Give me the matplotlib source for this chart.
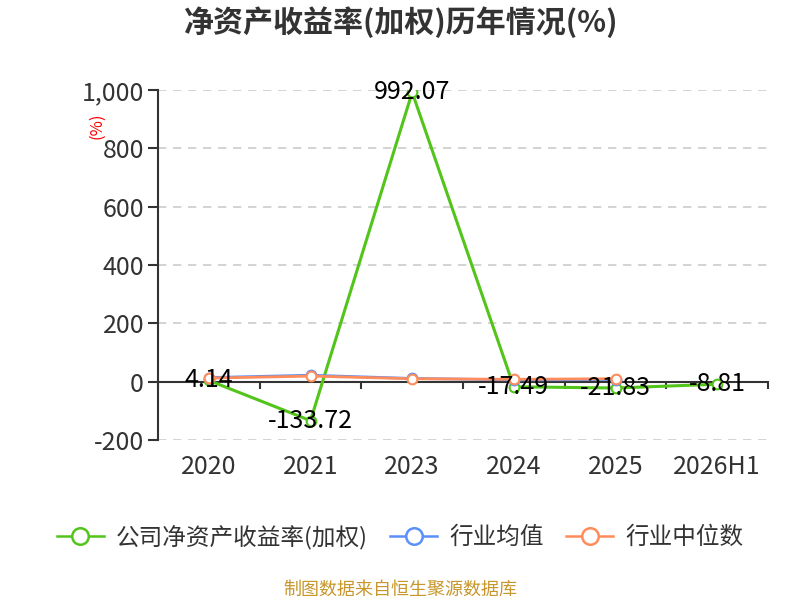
import matplotlib
matplotlib.use('Agg')
import matplotlib.pyplot as plt
from matplotlib.ticker import FuncFormatter

plt.rcParams['font.family'] = ['Noto Sans CJK SC', 'DejaVu Sans']

years = ['2020', '2021', '2023', '2024', '2025', '2026H1']
company = [4.14, -133.72, 992.07, -17.49, -21.83, -8.81]
ind_avg = [14, 22, 11, 6, 7]
ind_med = [12, 19, 10, 8, 10]
names = ['公司净资产收益率(加权)', '行业均值', '行业中位数']

c_green, c_blue, c_orange = '#52c41a', '#5b8ff9', '#ff8c5a'
ylo, yhi = -200, 1000

fig = plt.figure(figsize=(8, 6), dpi=100)
ax = fig.add_axes([0.1975, 0.2667, 0.7625, 0.5833])
x = list(range(len(years)))

mk = dict(marker='o', markersize=7, markerfacecolor='white', markeredgewidth=1.5)
ax.plot(x, company, color=c_green, lw=2.2, label=names[0], zorder=3, **mk)
ax.plot(x[:len(ind_avg)], ind_avg, color=c_blue, lw=2, label=names[1], zorder=4, **mk)
ax.plot(x[:len(ind_med)], ind_med, color=c_orange, lw=2, label=names[2], zorder=5, **mk)

for xi, v in zip(x, company):
    ax.text(xi, v, f'{v:.2f}', ha='center', va='center', fontsize=18,
            color='black', zorder=10)

ax.set_xlim(-0.5, len(years) - 0.5)
ax.set_ylim(ylo, yhi)
ax.set_yticks(range(ylo, yhi + 1, 200))
ax.yaxis.set_major_formatter(FuncFormatter(lambda v, p: f'{int(v):,}'))
ax.grid(axis='y', ls=(0, (5, 4)), color='#cccccc', lw=1.2)
ax.set_axisbelow(True)
# no dashed line over the zero axis
for t, g in zip(ax.get_yticks(), ax.get_ygridlines()):
    if t == 0:
        g.set_visible(False)

for s in ['top', 'right', 'bottom']:
    ax.spines[s].set_visible(False)
ax.spines['left'].set_color('#333333')
ax.spines['left'].set_linewidth(1.5)
ax.tick_params(axis='y', length=7, width=1.5, color='#333333',
               labelsize=18, labelcolor='#333333', pad=3)
ax.set_xticks(x)
ax.set_xticklabels(years)
ax.tick_params(axis='x', length=0, labelsize=18, labelcolor='#333333', pad=10)

# x axis line sitting at zero
zero = ax.secondary_xaxis((0 - ylo) / (yhi - ylo))
zero.set_xticks([i - 0.5 for i in range(len(years) + 1)])
zero.set_xticklabels([])
zero.tick_params(length=5, width=1.5, color='#333333')
zero.spines['bottom'].set_color('#333333')
zero.spines['bottom'].set_linewidth(1.5)

fig.text(0.121, 0.79, '(%)', color='red', fontsize=12, rotation=90,
         ha='center', va='center')

fig.suptitle('净资产收益率(加权)历年情况(%)', x=0.5, y=0.963, va='center',
             fontsize=21.6, fontweight='bold', color='#333333')

leg = fig.legend(loc='center', bbox_to_anchor=(0.5, 0.105), ncol=3, frameon=False,
                 fontsize=17, handlelength=2.0, columnspacing=0.95,
                 handletextpad=0.5, labelcolor='#333333', markerscale=1.7)
for h in leg.legend_handles:
    h.set_linewidth(1.8)
    h.set_markeredgewidth(1.8)

fig.text(0.5, 0.017, '制图数据来自恒生聚源数据库', color='#c8962a', fontsize=13,
         ha='center', va='center')

fig.savefig('out.png', dpi=100)
